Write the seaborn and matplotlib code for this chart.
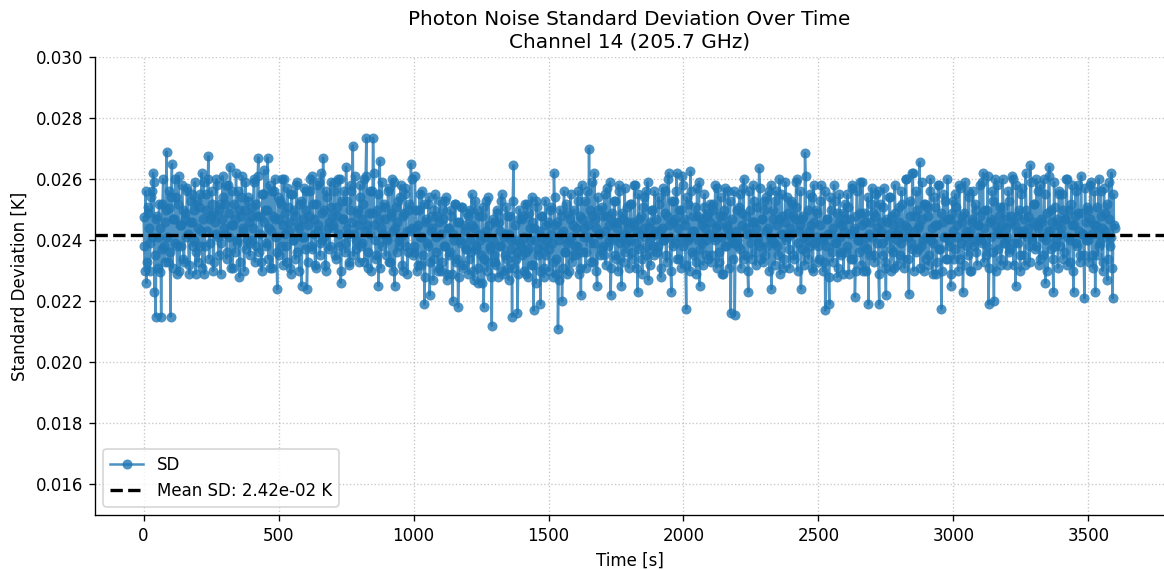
import numpy as np
import matplotlib
matplotlib.use("Agg")
import matplotlib.pyplot as plt
import seaborn as sns

# standard deviation values, in units of 1e-5 K
# samples at t = 0, 5, 10, ... s
sd_even_1e5 = [
    2475, 2300, 2260, 2510, 2440, 2390, 2560, 2620, 2230, 2150, 2480, 2410, 2295, 2150, 2520, 2380, 2460, 2690, 2330, 2505,
    2150, 2650, 2470, 2390, 2540, 2290, 2610, 2450, 2380, 2500, 2330, 2470, 2560, 2420, 2290, 2530, 2460, 2400, 2590, 2360,
    2440, 2510, 2380, 2620, 2470, 2290, 2550, 2430, 2675, 2390, 2480, 2520, 2330, 2460, 2600, 2410, 2500, 2290, 2470, 2540,
    2420, 2580, 2360, 2490, 2640, 2450, 2310, 2520, 2470, 2400, 2560, 2280, 2480, 2610, 2430, 2500, 2370, 2540, 2460, 2390,
    2510, 2440, 2600, 2380, 2480, 2670, 2420, 2330, 2550, 2460, 2500, 2390, 2670, 2440, 2310, 2560, 2480, 2600, 2410, 2240,
    2470, 2530, 2380, 2450, 2600, 2420, 2330, 2510, 2460, 2290, 2550, 2400, 2480, 2580, 2360, 2440, 2520, 2250, 2470, 2410,
    2500, 2240, 2450, 2560, 2380, 2610, 2470, 2320, 2520, 2430, 2590, 2390, 2490, 2670, 2410, 2300, 2540, 2460, 2380, 2510,
    2440, 2560, 2350, 2480, 2600, 2420, 2260, 2530, 2470, 2390, 2640, 2440, 2330, 2500, 2560, 2710, 2420, 2370, 2490, 2450,
    2540, 2380, 2470, 2600, 2430, 2735, 2310, 2490, 2420, 2560, 2735, 2450, 2350, 2500, 2250, 2660, 2440, 2380, 2520, 2470,
    2400, 2560, 2330, 2480, 2600, 2430, 2250, 2510, 2460, 2380, 2540, 2410, 2300, 2490, 2570, 2430, 2360, 2500, 2650, 2440,
    2380, 2610, 2440, 2320, 2500, 2410, 2560, 2350, 2190, 2460, 2390, 2520, 2220, 2430, 2480, 2340, 2550, 2410, 2300, 2460,
    2420, 2330, 2500, 2380, 2540, 2290, 2440, 2360, 2480, 2200, 2400, 2520, 2340, 2180, 2460, 2390, 2510, 2310, 2430, 2370,
    2480, 2340, 2400, 2550, 2300, 2440, 2370, 2500, 2260, 2420, 2350, 2480, 2180, 2410, 2530, 2330, 2450, 2380, 2120, 2400,
    2460, 2320, 2500, 2380, 2430, 2530, 2290, 2410, 2350, 2480, 2310, 2420, 2370, 2150, 2645, 2400, 2340, 2160, 2470, 2390,
    2350, 2480, 2410, 2290, 2520, 2370, 2440, 2320, 2460, 2170, 2400, 2530, 2350, 2430, 2190, 2480, 2380, 2310, 2450, 2400,
    2370, 2500, 2420, 2330, 2620, 2450, 2290, 2110, 2400, 2480, 2200, 2430, 2360, 2520, 2390, 2300, 2470, 2410, 2350, 2500,
    2440, 2380, 2560, 2310, 2220, 2470, 2410, 2530, 2360, 2450, 2700, 2390, 2480, 2330, 2620, 2440, 2250, 2500, 2420, 2370,
    2480, 2350, 2430, 2570, 2380, 2450, 2220, 2490, 2400, 2530, 2340, 2460, 2580, 2390, 2250, 2470, 2420, 2360, 2510, 2440,
    2400, 2520, 2360, 2450, 2580, 2390, 2230, 2470, 2420, 2340, 2510, 2440, 2560, 2380, 2270, 2460, 2410, 2500, 2350, 2430,
    2470, 2380, 2520, 2280, 2440, 2400, 2560, 2350, 2480, 2620, 2410, 2230, 2460, 2530, 2390, 2620, 2440, 2340, 2500, 2610,
    2380, 2450, 2175, 2520, 2410, 2625, 2360, 2480, 2430, 2330, 2570, 2400, 2250, 2470, 2390, 2510, 2440, 2350, 2490, 2420,
    2460, 2350, 2520, 2400, 2440, 2570, 2330, 2480, 2410, 2290, 2500, 2380, 2450, 2560, 2420, 2160, 2470, 2390, 2155, 2430,
    2400, 2510, 2370, 2450, 2570, 2340, 2480, 2420, 2230, 2500, 2390, 2460, 2530, 2360, 2440, 2410, 2635, 2380, 2470, 2330,
    2500, 2430, 2380, 2560, 2410, 2240, 2470, 2390, 2530, 2450, 2350, 2600, 2420, 2480, 2310, 2460, 2400, 2540, 2370, 2440,
    2420, 2480, 2340, 2510, 2600, 2390, 2450, 2240, 2470, 2410, 2685, 2360, 2500, 2430, 2380, 2540, 2300, 2460, 2410, 2490,
    2380, 2450, 2580, 2400, 2330, 2170, 2470, 2420, 2190, 2500, 2360, 2440, 2530, 2390, 2280, 2460, 2410, 2350, 2490, 2430,
    2470, 2380, 2510, 2420, 2340, 2570, 2440, 2215, 2480, 2400, 2360, 2590, 2450, 2300, 2490, 2410, 2370, 2190, 2460, 2520,
    2410, 2350, 2480, 2440, 2560, 2190, 2460, 2390, 2510, 2330, 2220, 2470, 2420, 2540, 2370, 2450, 2310, 2490, 2400, 2430,
    2460, 2390, 2520, 2340, 2450, 2600, 2410, 2225, 2480, 2370, 2620, 2430, 2360, 2500, 2440, 2655, 2380, 2470, 2300, 2520,
    2410, 2480, 2350, 2600, 2440, 2390, 2510, 2290, 2450, 2580, 2370, 2175, 2460, 2410, 2530, 2340, 2470, 2400, 2250, 2490,
    2430, 2370, 2510, 2450, 2580, 2340, 2460, 2230, 2490, 2410, 2380, 2560, 2430, 2300, 2470, 2400, 2520, 2360, 2450, 2410,
    2480, 2390, 2620, 2440, 2350, 2500, 2190, 2460, 2410, 2530, 2200, 2600, 2430, 2370, 2480, 2320, 2450, 2510, 2390, 2440,
    2410, 2530, 2370, 2460, 2600, 2390, 2250, 2480, 2430, 2350, 2550, 2420, 2470, 2320, 2500, 2440, 2380, 2645, 2410, 2460,
    2520, 2380, 2450, 2560, 2340, 2470, 2410, 2600, 2260, 2490, 2430, 2640, 2370, 2460, 2230, 2510, 2400, 2450, 2550, 2380,
    2440, 2500, 2360, 2470, 2600, 2410, 2330, 2520, 2450, 2230, 2480, 2390, 2580, 2430, 2350, 2490, 2420, 2210, 2460, 2510,
    2400, 2470, 2590, 2350, 2450, 2230, 2510, 2420, 2380, 2560, 2440, 2330, 2490, 2410, 2270, 2470, 2380, 2620, 2210, 2450,
]
# samples at t = 2.5, 7.5, 12.5, ... s
sd_odd_1e5 = [
    2380, 2560, 2330, 2490, 2300, 2540, 2410, 2590, 2350, 2470, 2310, 2520, 2440, 2370, 2600, 2330, 2500, 2410, 2560, 2360,
    2540, 2310, 2470, 2600, 2380, 2520, 2300, 2450, 2580, 2340, 2490, 2410, 2570, 2320, 2460, 2550, 2380, 2500, 2290, 2530,
    2330, 2550, 2430, 2310, 2590, 2380, 2500, 2600, 2340, 2470, 2560, 2300, 2490, 2420, 2580, 2350, 2520, 2390, 2610, 2440,
    2520, 2340, 2580, 2410, 2310, 2560, 2450, 2360, 2620, 2390, 2500, 2330, 2540, 2440, 2300, 2590, 2400, 2530, 2350, 2480,
    2400, 2590, 2330, 2520, 2610, 2360, 2480, 2300, 2550, 2630, 2380, 2500, 2340, 2580, 2430, 2310, 2560, 2470, 2360, 2540,
    2350, 2520, 2600, 2320, 2490, 2380, 2570, 2430, 2310, 2550, 2400, 2500, 2340, 2590, 2450, 2300, 2530, 2410, 2570, 2370,
    2560, 2330, 2480, 2600, 2370, 2520, 2420, 2310, 2580, 2450, 2350, 2620, 2400, 2500, 2320, 2560, 2440, 2370, 2590, 2480,
    2450, 2590, 2340, 2510, 2380, 2600, 2300, 2470, 2560, 2360, 2530, 2420, 2320, 2580, 2460, 2350, 2610, 2400, 2500, 2330,
    2580, 2390, 2520, 2330, 2610, 2450, 2360, 2560, 2300, 2490, 2620, 2400, 2340, 2550, 2470, 2310, 2590, 2420, 2510, 2350,
    2410, 2570, 2330, 2490, 2300, 2590, 2440, 2360, 2530, 2400, 2580, 2320, 2480, 2550, 2380, 2290, 2520, 2430, 2600, 2350,
    2360, 2500, 2300, 2450, 2550, 2320, 2410, 2520, 2280, 2470, 2380, 2540, 2330, 2440, 2270, 2500, 2360, 2480, 2310, 2530,
    2300, 2470, 2380, 2530, 2270, 2440, 2350, 2500, 2290, 2420, 2520, 2330, 2460, 2280, 2400, 2510, 2320, 2450, 2370, 2490,
    2290, 2500, 2360, 2450, 2270, 2530, 2380, 2310, 2480, 2400, 2260, 2510, 2340, 2430, 2300, 2540, 2370, 2280, 2470, 2350,
    2330, 2490, 2280, 2460, 2380, 2550, 2300, 2420, 2510, 2340, 2270, 2480, 2400, 2530, 2310, 2450, 2360, 2290, 2500, 2380,
    2470, 2300, 2520, 2360, 2280, 2490, 2400, 2540, 2320, 2440, 2260, 2510, 2370, 2300, 2480, 2410, 2280, 2530, 2350, 2460,
    2300, 2510, 2390, 2280, 2540, 2340, 2460, 2270, 2500, 2420, 2310, 2560, 2360, 2290, 2490, 2400, 2550, 2330, 2450, 2380,
    2350, 2530, 2290, 2480, 2580, 2360, 2440, 2310, 2560, 2410, 2500, 2330, 2590, 2390, 2470, 2300, 2540, 2420, 2350, 2510,
    2380, 2550, 2320, 2480, 2400, 2590, 2310, 2460, 2530, 2350, 2440, 2300, 2560, 2410, 2490, 2330, 2570, 2390, 2460, 2310,
    2520, 2340, 2460, 2580, 2310, 2430, 2550, 2370, 2480, 2290, 2540, 2410, 2350, 2590, 2440, 2320, 2500, 2380, 2560, 2420,
    2360, 2540, 2430, 2310, 2570, 2400, 2490, 2330, 2600, 2450, 2300, 2530, 2380, 2470, 2560, 2340, 2500, 2410, 2310, 2580,
    2470, 2320, 2540, 2400, 2300, 2560, 2430, 2350, 2510, 2290, 2480, 2590, 2370, 2450, 2320, 2550, 2400, 2480, 2340, 2520,
    2330, 2500, 2410, 2580, 2310, 2450, 2360, 2540, 2290, 2480, 2570, 2380, 2440, 2310, 2530, 2410, 2340, 2560, 2390, 2500,
    2380, 2550, 2310, 2490, 2600, 2350, 2440, 2300, 2560, 2420, 2340, 2580, 2460, 2320, 2510, 2390, 2570, 2340, 2470, 2530,
    2350, 2540, 2440, 2300, 2580, 2400, 2500, 2320, 2560, 2380, 2470, 2290, 2550, 2420, 2340, 2590, 2410, 2490, 2310, 2530,
    2520, 2350, 2470, 2590, 2300, 2430, 2560, 2370, 2480, 2320, 2610, 2400, 2340, 2550, 2450, 2310, 2580, 2390, 2500, 2330,
    2340, 2530, 2410, 2300, 2560, 2380, 2470, 2280, 2540, 2420, 2330, 2580, 2390, 2490, 2310, 2550, 2360, 2450, 2290, 2520,
    2360, 2550, 2290, 2470, 2580, 2340, 2430, 2300, 2560, 2400, 2490, 2320, 2590, 2380, 2460, 2300, 2540, 2420, 2350, 2570,
    2490, 2330, 2550, 2390, 2290, 2520, 2430, 2350, 2570, 2310, 2460, 2400, 2540, 2300, 2480, 2360, 2580, 2420, 2320, 2510,
    2350, 2560, 2410, 2310, 2600, 2440, 2340, 2530, 2390, 2620, 2300, 2480, 2560, 2370, 2450, 2310, 2590, 2400, 2520, 2340,
    2510, 2320, 2560, 2400, 2290, 2540, 2450, 2330, 2580, 2370, 2490, 2300, 2550, 2410, 2340, 2600, 2380, 2470, 2290, 2530,
    2340, 2550, 2410, 2300, 2570, 2390, 2480, 2320, 2590, 2430, 2350, 2540, 2300, 2460, 2560, 2380, 2500, 2320, 2450, 2580,
    2400, 2590, 2330, 2500, 2380, 2610, 2310, 2470, 2560, 2360, 2450, 2300, 2580, 2420, 2510, 2340, 2600, 2390, 2480, 2320,
    2560, 2360, 2480, 2610, 2320, 2450, 2580, 2390, 2500, 2300, 2570, 2430, 2350, 2620, 2410, 2480, 2330, 2590, 2400, 2520,
    2370, 2600, 2440, 2320, 2580, 2460, 2350, 2550, 2400, 2300, 2610, 2430, 2500, 2340, 2590, 2380, 2470, 2310, 2560, 2420,
    2550, 2340, 2470, 2600, 2320, 2500, 2400, 2580, 2300, 2450, 2560, 2380, 2490, 2330, 2610, 2420, 2350, 2570, 2400, 2500,
    2330, 2580, 2420, 2310, 2560, 2450, 2350, 2600, 2390, 2480, 2300, 2570, 2430, 2520, 2340, 2590, 2410, 2310, 2550, 2440,
]
mean_sd = 0.02418  # K, dashed reference line
step_s = 2.5       # sampling interval [s]

# interleave the two sample sets into one time series
sd_1e5 = [v for pair in zip(sd_even_1e5, sd_odd_1e5) for v in pair]
time_s = np.arange(len(sd_1e5)) * step_s
sd_values = np.array(sd_1e5) * 1e-5  # convert to K

DPI = 120
fig = plt.figure(figsize=(1164 / DPI, 570 / DPI), dpi=DPI)
ax = fig.add_axes([95 / 1164, 1 - 515 / 570, 1 - 95 / 1164, (515 - 57) / 570])

sns.lineplot(x=time_s, y=sd_values, ax=ax, marker="o", color="#1f77b4",
             alpha=0.8, linewidth=1.5, markersize=6, markeredgewidth=0,
             estimator=None, sort=False, label="SD")
ax.axhline(mean_sd, color="black", linestyle="--", linewidth=2,
           label=f"Mean SD: {mean_sd:.2e} K")

ax.set_ylim(0.015, 0.030)
ax.set_xlim(-180, 3780)
ax.set_yticks([0.016, 0.018, 0.020, 0.022, 0.024, 0.026, 0.028, 0.030])
ax.set_xlabel("Time [s]")
ax.set_ylabel("Standard Deviation [K]")
ax.set_title("Photon Noise Standard Deviation Over Time\nChannel 14 (205.7 GHz)")
ax.grid(True, linestyle=":", color="#b0b0b0", alpha=0.7)
sns.despine(ax=ax)
ax.legend(loc="lower left")

fig.savefig("out.png", dpi=DPI)
